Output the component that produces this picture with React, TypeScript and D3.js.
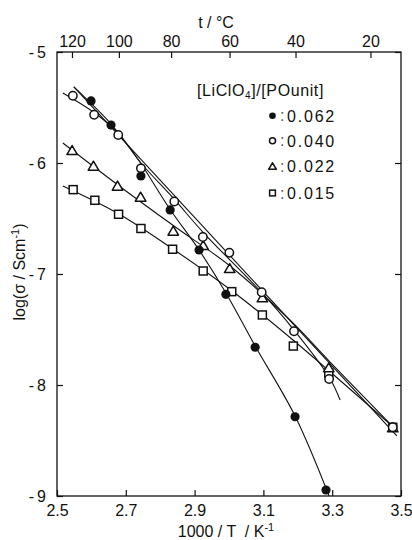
import * as d3 from 'd3';
import React, { useEffect, useRef } from 'react';

// measured points, x = 1000/T (K^-1), y = log(sigma / S cm^-1)
const invT062 = [2.599, 2.657, 2.744, 2.829, 2.913, 2.991, 3.076, 3.192, 3.282];
const logS062 = [-5.441, -5.658, -6.117, -6.423, -6.784, -7.183, -7.66, -8.286, -8.946];

const invT040 = [2.546, 2.608, 2.678, 2.744, 2.841, 2.924, 3.001, 3.095, 3.189, 3.291, 3.476];
const logS040 = [-5.394, -5.565, -5.748, -6.048, -6.347, -6.667, -6.808, -7.165, -7.516, -7.946, -8.381];

const invT022 = [2.544, 2.606, 2.676, 2.743, 2.838, 2.925, 3.002, 3.097, 3.29, 3.476];
const logS022 = [-5.883, -6.024, -6.204, -6.304, -6.61, -6.739, -6.946, -7.21, -7.841, -8.381];

const invT015 = [2.547, 2.61, 2.679, 2.744, 2.836, 2.925, 3.008, 3.097, 3.187, 3.29, 3.476];
const logS015 = [-6.24, -6.336, -6.462, -6.59, -6.777, -6.973, -7.159, -7.369, -7.649, -7.892, -8.381];

// hand-drawn fit lines
const fit062X = [2.549, 2.657, 2.733, 2.828, 2.913, 2.991, 3.076, 3.192, 3.291];
const fit062Y = [-5.315, -5.649, -5.955, -6.414, -6.784, -7.171, -7.649, -8.279, -9.0];
const fit040X = [2.517, 2.61, 2.677, 2.744, 2.84, 2.924, 3.096, 3.189, 3.291, 3.323];
const fit040Y = [-5.369, -5.55, -5.73, -6.0, -6.324, -6.622, -7.171, -7.505, -7.928, -8.135];
const fitStraightX = [2.549, 3.488];
const fitStraightY = [-5.315, -8.459];
const fit022X = [2.517, 2.677, 2.84, 3.003, 3.177, 3.294, 3.477];
const fit022Y = [-5.82, -6.198, -6.568, -6.928, -7.414, -7.793, -8.378];
const fit015X = [2.517, 2.68, 2.837, 3.009, 3.186, 3.477];
const fit015Y = [-6.207, -6.459, -6.775, -7.153, -7.595, -8.378];

const xTicks = [2.5, 2.7, 2.9, 3.1, 3.3, 3.5];
const yTicks = [-5, -6, -7, -8, -9];
const tempTicks = [120, 100, 80, 60, 40, 20];
const legendLabels = ['0.062', '0.040', '0.022', '0.015'];
const legendKinds = ['filled', 'circle', 'triangle', 'square'];

const zip = (xs, ys) => xs.map((x, i) => [x, ys[i]]);

const App = () => {
    const svgRef = useRef();

    useEffect(() => {
        const width = 412;
        const height = 540;
        const margin = { top: 52, right: 11, bottom: 44, left: 57 };
        const font = '"Liberation Sans", Arial, sans-serif';

        const xScale = d3.scaleLinear()
            .domain([2.5, 3.5])
            .range([margin.left, width - margin.right]);
        const yScale = d3.scaleLinear()
            .domain([-9, -5])
            .range([height - margin.bottom, margin.top]);

        const svg = d3.select(svgRef.current);
        svg.selectAll('*').remove();
        svg.attr('width', width).attr('height', height);

        // frame
        svg.append('rect')
            .attr('x', margin.left)
            .attr('y', margin.top)
            .attr('width', width - margin.left - margin.right)
            .attr('height', height - margin.top - margin.bottom)
            .attr('fill', 'none')
            .attr('stroke', '#111')
            .attr('stroke-width', 1.3);

        // bottom axis, ticks pointing in
        const bottom = svg.append('g')
            .attr('transform', `translate(0,${height - margin.bottom})`)
            .call(d3.axisBottom(xScale).tickValues(xTicks).tickSize(-6).tickPadding(9).tickFormat(d3.format('.1f')));
        bottom.select('.domain').remove();

        // top axis in degrees C
        const top = svg.append('g')
            .attr('transform', `translate(0,${margin.top})`)
            .call(d3.axisTop(xScale)
                .tickValues(tempTicks.map(t => 1000 / (t + 273.15)))
                .tickSize(-6).tickPadding(5)
                .tickFormat((d, i) => tempTicks[i]));
        top.select('.domain').remove();

        // left + right ticks
        const left = svg.append('g')
            .attr('transform', `translate(${margin.left},0)`)
            .call(d3.axisLeft(yScale).tickValues(yTicks).tickSize(-6).tickPadding(8).tickFormat(d => '-' + Math.abs(d)));
        left.select('.domain').remove();
        const right = svg.append('g')
            .attr('transform', `translate(${width - margin.right},0)`)
            .call(d3.axisRight(yScale).tickValues(yTicks).tickSize(-6).tickFormat(() => ''));
        right.select('.domain').remove();

        svg.selectAll('.tick line').attr('stroke', '#111').attr('stroke-width', 1.2);
        svg.selectAll('.tick text')
            .attr('fill', '#111')
            .style('font-family', font)
            .style('font-size', '16px');
        left.selectAll('.tick text').style('letter-spacing', '3px');

        // axis titles
        svg.append('text')
            .attr('x', 226)
            .attr('y', 537)
            .attr('text-anchor', 'middle')
            .style('font-family', font)
            .style('font-size', '16px')
            .attr('fill', '#111')
            .html('1000 / T &#160;/ K<tspan dy="-6" font-size="11">-1</tspan>');

        svg.append('text')
            .attr('x', 216)
            .attr('y', 28)
            .attr('text-anchor', 'middle')
            .style('font-family', font)
            .style('font-size', '16px')
            .attr('fill', '#111')
            .text('t / °C');

        svg.append('text')
            .attr('transform', 'translate(25,272) rotate(-90)')
            .attr('text-anchor', 'middle')
            .style('font-family', font)
            .style('font-size', '16px')
            .attr('fill', '#111')
            .html('log(σ / Scm<tspan dy="-6" font-size="11">-1</tspan><tspan dy="6">)</tspan>');

        // fit lines
        const line = d3.line()
            .x(d => xScale(d[0]))
            .y(d => yScale(d[1]))
            .curve(d3.curveCatmullRom.alpha(0.5));
        const fits = [
            zip(fit062X, fit062Y),
            zip(fit040X, fit040Y),
            zip(fitStraightX, fitStraightY),
            zip(fit022X, fit022Y),
            zip(fit015X, fit015Y)
        ];
        svg.append('g')
            .selectAll('path')
            .data(fits)
            .enter()
            .append('path')
            .attr('d', line)
            .attr('fill', 'none')
            .attr('stroke', '#111')
            .attr('stroke-width', 1.1);

        // marker shapes
        const drawMarker = (g, kind, cx, cy, s) => {
            if (kind === 'filled') {
                g.append('circle').attr('cx', cx).attr('cy', cy).attr('r', 4.6 * s).attr('fill', '#111');
            } else if (kind === 'circle') {
                g.append('circle').attr('cx', cx).attr('cy', cy).attr('r', 4.2 * s)
                    .attr('fill', 'white').attr('stroke', '#111').attr('stroke-width', 1.5);
            } else if (kind === 'triangle') {
                const h = 9 * s, w = 10.5 * s;
                g.append('path')
                    .attr('d', `M${cx},${cy - h / 2}L${cx + w / 2},${cy + h / 2}L${cx - w / 2},${cy + h / 2}Z`)
                    .attr('fill', 'white').attr('stroke', '#111').attr('stroke-width', 1.5)
                    .attr('stroke-linejoin', 'round');
            } else {
                const a = 8 * s;
                g.append('rect').attr('x', cx - a / 2).attr('y', cy - a / 2).attr('width', a).attr('height', a)
                    .attr('fill', 'white').attr('stroke', '#111').attr('stroke-width', 1.5);
            }
        };

        const series = [
            { kind: 'square', xs: invT015, ys: logS015 },
            { kind: 'triangle', xs: invT022, ys: logS022 },
            { kind: 'circle', xs: invT040, ys: logS040 },
            { kind: 'filled', xs: invT062, ys: logS062 }
        ];
        const marks = svg.append('g');
        series.forEach(s => {
            s.xs.forEach((x, i) => drawMarker(marks, s.kind, xScale(x), yScale(s.ys[i]), 1));
        });

        // legend
        const legend = svg.append('g');
        legend.append('text')
            .attr('x', 197)
            .attr('y', 96)
            .style('font-family', font)
            .style('font-size', '16px')
            .style('letter-spacing', '0.6px')
            .attr('fill', '#111')
            .html('[LiClO<tspan dy="3" font-size="10">4</tspan><tspan dy="-3">]/[POunit]</tspan>');
        const rowY = [115.7, 140.7, 166, 193];
        legendKinds.forEach((k, i) => {
            drawMarker(legend, k, 272.5, rowY[i], 0.72);
            legend.append('text')
                .attr('x', 280)
                .attr('y', rowY[i] + 5.5)
                .style('font-family', font)
                .style('font-size', '16px')
                .attr('fill', '#555')
                .text(':');
            legend.append('text')
                .attr('x', 287)
                .attr('y', rowY[i] + 6)
                .style('font-family', font)
                .style('font-size', '16px')
                .style('letter-spacing', '1.8px')
                .attr('fill', '#111')
                .text(legendLabels[i]);
        });
    }, []);

    return <svg ref={svgRef} style={{ position: 'absolute', left: 0, top: 0, background: 'white' }}></svg>;
};

export default App;
